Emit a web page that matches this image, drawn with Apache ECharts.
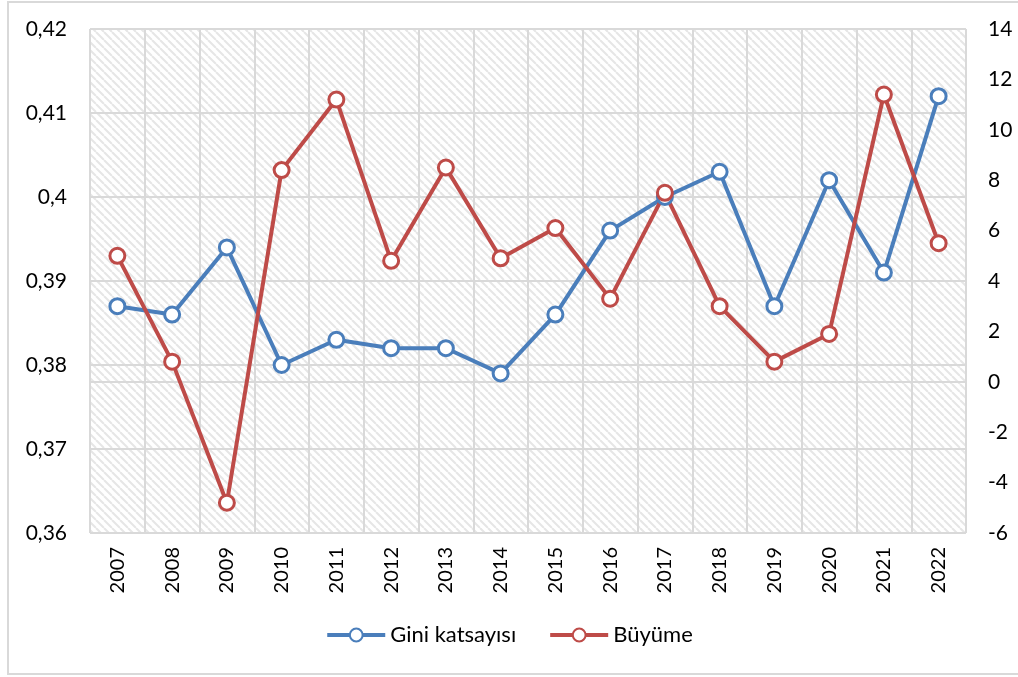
<!DOCTYPE html>
<html>
<head>
<meta charset="utf-8">
<script src="https://cdn.jsdelivr.net/npm/echarts@6/dist/echarts.min.js"></script>
<style>
html,body{margin:0;padding:0;background:#fff;overflow:hidden;}
#frame{position:absolute;left:7px;top:1px;width:1030px;height:674px;border:2px solid #d9d9d9;box-sizing:border-box;}
#chart{position:absolute;left:0;top:0;width:1018px;height:677px;}
</style>
</head>
<body>
<div id="frame"></div>
<div id="chart"></div>
<script>
const years = ['2007','2008','2009','2010','2011','2012','2013','2014','2015','2016','2017','2018','2019','2020','2021','2022'];
const gini = [0.387,0.386,0.394,0.380,0.383,0.382,0.382,0.379,0.386,0.396,0.400,0.403,0.387,0.402,0.391,0.412];
const growth = [5.0,0.8,-4.8,8.4,11.2,4.8,8.5,4.9,6.1,3.3,7.5,3.0,0.8,1.9,11.4,5.5];
const leftTicks = {min:0.36,max:0.42,interval:0.01};
const rightTicks = {min:-6,max:14,interval:2};

const pc = document.createElement('canvas');
pc.width = 8; pc.height = 8;
const ctx = pc.getContext('2d');
ctx.fillStyle = '#ffffff'; ctx.fillRect(0,0,8,8);
ctx.strokeStyle = '#e6e6e6'; ctx.lineWidth = 2;
for (let k=-8;k<=16;k+=8){ ctx.beginPath(); ctx.moveTo(k,0); ctx.lineTo(k+8,8); ctx.stroke(); }

const font = 'Lato, "Open Sans", sans-serif';
const chart = echarts.init(document.getElementById('chart'));
chart.setOption({
  animation:false,
  backgroundColor:'transparent',
  grid:{left:90,right:52,top:29,bottom:144,show:true,borderWidth:0,backgroundColor:{image:pc,repeat:'repeat'}},
  legend:{bottom:26,left:'center',itemWidth:58,itemHeight:16,itemGap:32,
    lineStyle:{width:4},
    textStyle:{fontFamily:font,fontSize:22,color:'#000'},
    data:['Gini katsayısı','Büyüme']},
  xAxis:{type:'category',data:years,boundaryGap:true,
    axisLine:{show:true,lineStyle:{color:'#d9d9d9',width:2}},
    axisTick:{show:true,length:8,lineStyle:{color:'#d9d9d9',width:2}},
    splitLine:{show:true,lineStyle:{color:'#d9d9d9',width:2}},
    axisLabel:{rotate:90,fontFamily:font,fontSize:20,color:'#000',margin:14}},
  yAxis:[
    {type:'value',min:leftTicks.min,max:leftTicks.max,interval:leftTicks.interval,
     axisLine:{show:false},axisTick:{show:false},
     splitLine:{lineStyle:{color:'#d9d9d9',width:2}},
     axisLabel:{fontFamily:font,fontSize:21,color:'#000',margin:23,
       formatter:v=>(Math.round(v*100)/100).toString().replace('.',',')}},
    {type:'value',min:rightTicks.min,max:rightTicks.max,interval:rightTicks.interval,
     axisLine:{show:false},axisTick:{show:false},splitLine:{show:false},
     axisLabel:{fontFamily:font,fontSize:21,color:'#000',margin:22}}
  ],
  series:[
    {name:'Gini katsayısı',type:'line',yAxisIndex:0,data:gini,symbol:'circle',symbolSize:15,
     lineStyle:{color:'#4a7ebb',width:4},itemStyle:{color:'#ffffff',borderColor:'#4a7ebb',borderWidth:3}},
    {name:'Büyüme',type:'line',yAxisIndex:1,data:growth,symbol:'circle',symbolSize:15,
     lineStyle:{color:'#be4b48',width:4},itemStyle:{color:'#ffffff',borderColor:'#be4b48',borderWidth:3}}
  ]
});
</script>
</body>
</html>
